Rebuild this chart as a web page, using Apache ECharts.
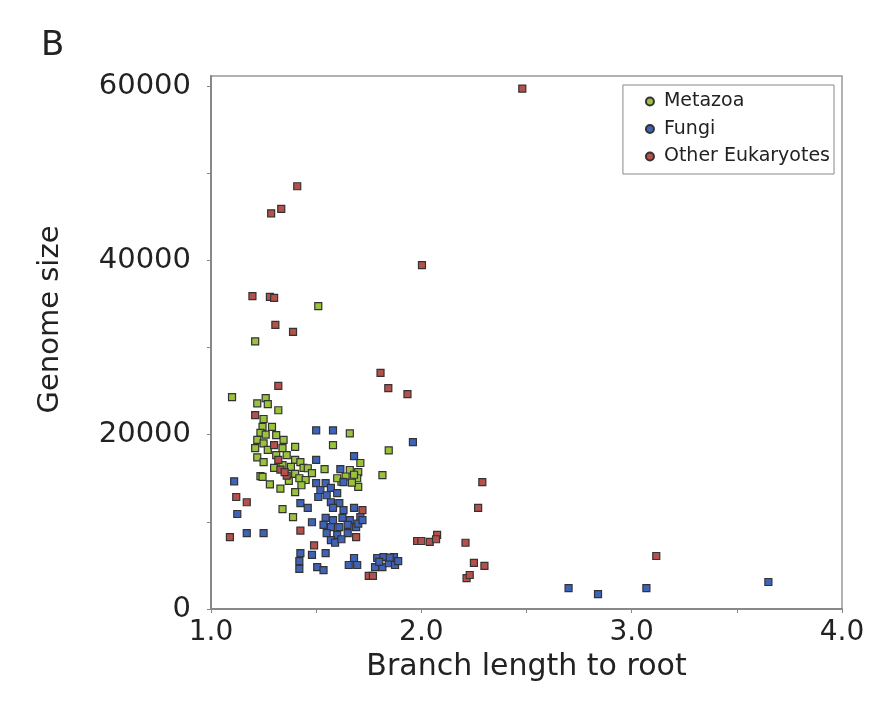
<!DOCTYPE html>
<html>
<head>
<meta charset="utf-8">
<script src="https://cdn.jsdelivr.net/npm/echarts@6/dist/echarts.min.js"></script>
<style>html,body{margin:0;padding:0;background:#fff;}#c{width:869px;height:712px;}</style>
</head>
<body>
<div id="c"></div>
<script>
// ---- data ----
const seriesNames = ["Metazoa", "Fungi", "Other Eukaryotes"];
const xTickLabels = [1, 2, 3, 4];
const yTickLabels = [0, 20000, 40000, 60000];

const metazoaX = [1.10,1.21,1.51,1.22,1.26,1.27,1.32,1.25,1.245,1.29,1.235,1.26,1.31,1.22,1.345,1.25,1.21,1.27,1.34,1.40,1.31,1.22,1.36,1.25,1.40,1.34,1.38,1.30,1.425,1.44,1.235,1.245,1.40,1.42,1.45,1.43,1.37,1.40,1.34,1.39,1.46,1.48,1.54,1.66,1.70,1.71,1.66,1.58,1.845,1.815,1.695,1.70,1.64,1.62,1.67,1.68,1.60,1.28,1.33];
const metazoaY = [24300,30700,34750,23600,24200,23500,22800,21800,20900,20900,20200,20000,19950,19400,19400,19000,18450,18250,18450,18600,17650,17400,17650,16850,17100,16500,16300,16200,16850,16200,15250,15150,15500,15000,14800,14200,14700,13400,11450,10550,16150,15600,16050,15950,15700,16750,20150,18800,18200,15350,15000,14000,15200,14600,14500,15400,15000,14300,13800];

const fungiX = [1.50,1.58,1.96,1.50,1.68,1.615,1.11,1.125,1.17,1.25,1.425,1.46,1.48,1.50,1.52,1.545,1.57,1.60,1.63,1.51,1.55,1.57,1.61,1.58,1.63,1.68,1.545,1.58,1.625,1.66,1.71,1.535,1.57,1.61,1.65,1.69,1.55,1.60,1.65,1.57,1.59,1.62,1.70,1.72,1.425,1.42,1.42,1.48,1.545,1.505,1.535,1.68,1.655,1.695,1.79,1.82,1.87,1.78,1.815,1.845,1.875,1.89,1.80,1.85,2.70,2.84,3.07,3.65];
const fungiY = [20500,20500,19150,17100,17550,16050,14650,10900,8700,8700,12150,11600,9950,14450,13650,14450,13900,13300,14550,12850,13050,12250,12150,11600,11350,11600,10450,10200,10450,10200,10550,9650,9400,9400,9650,9400,8700,8500,8700,7900,7600,8000,9800,10200,6400,5500,4600,6200,6400,4800,4450,5850,5050,5050,5850,5950,5950,4800,4800,5250,5050,5500,5400,5900,2400,1700,2400,3100];

const otherX = [2.48,1.41,1.286,1.334,2.003,1.197,1.28,1.30,1.306,1.39,1.806,1.843,1.32,1.934,1.21,2.29,2.27,1.98,2.00,2.04,2.075,2.07,2.21,2.25,2.30,2.215,2.23,3.117,1.12,1.17,1.09,1.425,1.49,1.72,1.69,1.75,1.77,1.30,1.32,1.33,1.36,1.35];
const otherY = [59700,48500,45400,45900,39450,35900,35800,35700,32600,31800,27100,25350,25600,24650,22250,14550,11600,7800,7800,7700,8500,8000,7600,5300,4950,3550,3900,6080,12850,12250,8250,9000,7300,11350,8250,3800,3800,18800,17100,16000,15300,15700];

const colors = ["#9bc23c", "#3f63b8", "#b5504c"];

function pairs(xs, ys) { return xs.map((x, i) => [x, ys[i]]); }

const chart = echarts.init(document.getElementById('c'), null, {renderer: 'canvas'});
const font = "DejaVu Sans";
const allData = [pairs(metazoaX, metazoaY), pairs(fungiX, fungiY), pairs(otherX, otherY)];

chart.setOption({
  animation: false,
  backgroundColor: '#fff',
  title: {
    text: 'B', left: 36, top: 24,
    textStyle: {fontFamily: font, fontSize: 34, fontWeight: 'normal', color: '#222'}
  },
  grid: {
    left: 211, right: 27, top: 76, bottom: 103,
    show: true, borderColor: '#999', borderWidth: 1.5, backgroundColor: '#fff'
  },
  legend: {
    orient: 'vertical', right: 35, top: 85,
    data: seriesNames.map(n => ({name: n, icon: 'circle'})),
    itemWidth: 18, itemHeight: 8, itemGap: 8.5,
    padding: [7, 4, 8, 22],
    borderColor: '#888', borderWidth: 1, backgroundColor: '#fff',
    textStyle: {fontFamily: font, fontSize: 19, color: '#222'}
  },
  xAxis: {
    type: 'value', min: 1, max: 4, interval: 0.5,
    name: 'Branch length to root', nameLocation: 'middle', nameGap: 42,
    nameTextStyle: {fontFamily: font, fontSize: 30, color: '#222'},
    axisLine: {show: true, lineStyle: {color: '#888', width: 2}},
    axisTick: {show: true, inside: false, length: 4, lineStyle: {color: '#888'},
      customValues: [1, 1.5, 2, 2.5, 3, 3.5, 4]},
    axisLabel: {fontFamily: font, fontSize: 28, color: '#222', margin: 10,
      customValues: xTickLabels, formatter: v => v.toFixed(1)},
    splitLine: {show: false}
  },
  yAxis: {
    type: 'value', min: 0, max: 61150, interval: 10000,
    name: 'Genome size', nameLocation: 'middle', nameGap: 146, nameRotate: 90,
    nameTextStyle: {fontFamily: font, fontSize: 29, color: '#222', padding: [0, 0, 0, 46]},
    axisLine: {show: true, lineStyle: {color: '#888', width: 2}},
    axisTick: {show: true, inside: false, length: 4, lineStyle: {color: '#888'},
      customValues: [0, 10000, 20000, 30000, 40000, 50000, 60000]},
    axisLabel: {fontFamily: font, fontSize: 29, color: '#222', margin: 20,
      customValues: yTickLabels, formatter: v => String(v)},
    splitLine: {show: false}
  },
  series: seriesNames.map((n, i) => ({
    name: n, type: 'scatter', symbol: 'rect', symbolSize: 7,
    data: allData[i],
    itemStyle: {color: colors[i], borderColor: '#333', borderWidth: 1.2, opacity: 1},
    z: 2 + (i === 1 ? 1 : 0)
  }))
});
</script>
</body>
</html>
